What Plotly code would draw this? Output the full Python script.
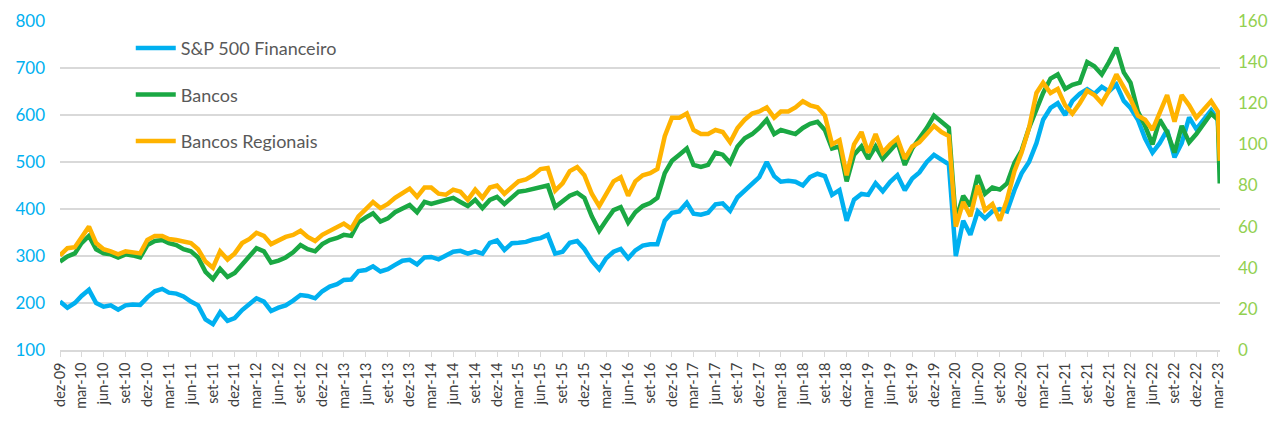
import plotly.graph_objects as go
import pandas as pd

# Monthly readings (Dec-2009 .. Mar-2023) plus the last point in mid-March 2023
dates = list(pd.date_range("2009-12-01", "2023-03-01", freq="MS").strftime("%Y-%m-%d")) + ["2023-03-09"]

sp500_fin = [203,190,200,215,228,200,192,195,186,195,197,196,
             212,225,230,222,220,214,203,195,165,155,180,162,
             168,185,198,210,203,183,190,195,205,217,215,210,
             225,235,240,249,250,268,270,278,267,272,281,290,
             292,282,297,298,293,300,309,311,305,310,305,328,
             333,313,327,328,330,335,338,345,305,309,328,332,
             315,290,272,295,309,315,295,312,322,325,325,375,
             392,395,413,390,388,392,410,412,396,425,440,455,
             468,500,470,458,460,458,450,468,475,470,430,440,
             375,420,432,430,455,438,458,472,440,465,478,500,
             515,505,495,300,375,345,395,380,395,400,395,440,
             476,500,540,590,615,625,600,630,645,655,645,660,
             650,665,630,615,590,550,520,540,568,510,540,595,
             570,590,610,590,
             520]

bancos = [43,45.5,47,52,55.5,49,47,46.5,45,46.5,46,45,
          51,53,53.5,52,51,49,48,45,38,34.5,39.5,35.5,
          37.5,41.5,46,49.5,48,42.5,43.5,45,47.5,51,49,48,
          51.5,53.5,54.5,56,55.5,62,64.5,66.5,62.5,64,67,69,
          70.5,67,72,71,72,73,74,72,70,73,69,73,
          74.5,71,74,77,77.5,78.5,79.5,80,69.5,72,75,76.5,
          74,65,58,63,68,69.5,62,67,70,71.5,74,86,
          92,95,98,90,89,90,96,95,91,99,103,105,
          108,112,105,107,106,105,108,110,111,107,98,99,
          82,95,99,93,99,93,97,101,90,98,103,108,
          114,111,108,63,75,70,85,76,79,78,81,91,
          97,108,117,125,132,134,127,129,130,140,138,134,
          140,147,135,130,116,109,100,112,106,96,109,101,
          105,110,115,112,
          81]

bancos_regionais = [46,49.5,50,55,60,52,49,48,46.5,48,47.5,47,
                    53.5,55.5,55.5,54,53.5,52.5,52,49,43,40,48,44,
                    47,52,54,57,55.5,51.5,53.5,55,56,58,55,53,
                    56,58,59.5,61.5,59,65,68.5,72,69,71,74,76,
                    78.5,74.5,79,79,76,75.5,78,77,73,78,74,79,
                    80,76,79,82,83,85,88,88.5,77.5,81,87,89,
                    85,76,70,76,82,84,75,82,85,86,88,104,
                    113,113,115,107,105,105,107,106,101,108,112,115,
                    116,118,113,116,116,118,121,119,118,114,100,102,
                    85,100,106,96,105,96,100,103,93,99,101,105,
                    109,106,104,60,72,65,80,68,71,63,73,87,
                    96,108,125,130,125,127,119,115,120,126,124,120,
                    126,134,128,122,114,112,107,116,124,111,124,119,
                    113,117,121,116,
                    92]

# Quarterly tick labels (Portuguese month abbreviations)
tick_dates = list(pd.date_range("2009-12-01", "2023-03-01", freq="3MS").strftime("%Y-%m-%d"))
month_pt = {3: "mar", 6: "jun", 9: "set", 12: "dez"}
tick_labels = [f"{month_pt[int(d[5:7])]}-{d[2:4]}" for d in tick_dates]

BLUE = "#00B0F0"
GREEN = "#1AA843"
ORANGE = "#FFB300"
TEXT = "#595959"
GRID = "#D9D9D9"

fig = go.Figure()
fig.add_trace(go.Scatter(x=dates, y=sp500_fin, name="S&P 500 Financeiro", mode="lines",
                         line=dict(color=BLUE, width=4.5), yaxis="y", legendgroup="a"))
fig.add_trace(go.Scatter(x=dates, y=bancos, name="Bancos", mode="lines",
                         line=dict(color=GREEN, width=4.5), yaxis="y2", legendgroup="b"))
fig.add_trace(go.Scatter(x=dates, y=bancos_regionais, name="Bancos Regionais", mode="lines",
                         line=dict(color=ORANGE, width=4.5), yaxis="y2", legendgroup="c"))

# the page places the figure 8px from the top-left corner
fig.update_layout(
    width=1264, height=417,
    margin=dict(l=52, r=52, t=13, b=75),
    paper_bgcolor="white", plot_bgcolor="white",
    font=dict(family="Lato", size=17, color=TEXT),
    showlegend=True,
    legend=dict(x=0.061, y=0.973, xanchor="left", yanchor="top",
                bgcolor="rgba(0,0,0,0)", font=dict(size=18, color=TEXT),
                tracegroupgap=20, itemwidth=40),
    xaxis=dict(type="date", range=["2009-12-01", "2023-03-10"],
               tickmode="array", tickvals=tick_dates, ticktext=tick_labels,
               tickangle=-90, tickfont=dict(size=14.5, color="#404040"),
               showgrid=False, showline=True, linecolor=GRID, linewidth=1.5,
               ticks="outside", ticklen=5, tickcolor=GRID, zeroline=False,
               automargin=False),
    yaxis=dict(range=[100, 800], dtick=100, tick0=100,
               tickfont=dict(size=17, color=BLUE),
               showgrid=True, gridcolor=GRID, gridwidth=1.5, zeroline=False,
               showline=False, ticks="", ticklabelstandoff=14, automargin=False),
    yaxis2=dict(range=[0, 160], dtick=20, tick0=0, overlaying="y", side="right",
                tickfont=dict(size=17, color="#92D050"),
                showgrid=False, zeroline=False, showline=False, ticks="",
                ticklabelstandoff=17, automargin=False),
)

fig.write_html("out.html")
